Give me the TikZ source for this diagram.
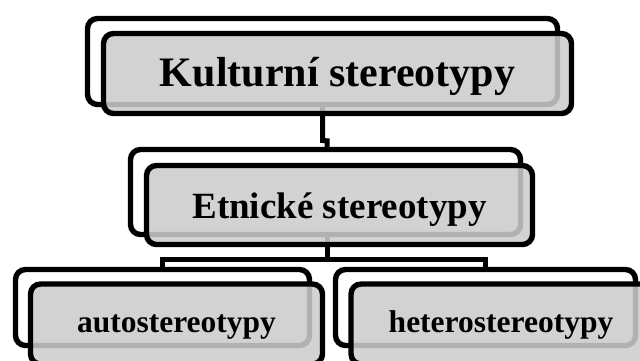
\documentclass[tikz,border=0pt]{standalone}
\usepackage{fontspec}
\setmainfont{Liberation Serif}
\usetikzlibrary{calc}
\pgfdeclarelayer{bg}
\pgfsetlayers{bg,main}
\begin{document}
\begin{tikzpicture}[x=1pt,y=-1pt,
  backbox/.style={draw=black, line width=5.4pt, fill=white, rounded corners=10pt, inner sep=0pt},
  frontbox/.style={draw=black, line width=5.4pt, fill=black!20, fill opacity=0.87, text opacity=1, draw opacity=1, rounded corners=10pt, inner sep=0pt, text depth=0pt},
  conn/.style={line width=5pt, draw=black}]
\useasboundingbox (0,0) rectangle (640,360);
\begin{scope}
\clip (0,0) rectangle (640,360);
% back boxes
\node[backbox, minimum width=470pt, minimum height=86pt] (kb) at (322.5,61.5) {};
\node[backbox, minimum width=390pt, minimum height=85pt] (eb) at (325.5,192) {};
\node[backbox, minimum width=294pt, minimum height=76pt] (ab) at (162.5,307.5) {};
\node[backbox, minimum width=300pt, minimum height=76pt] (hb) at (485.5,307.5) {};
% front boxes
\node[frontbox, minimum width=468pt, minimum height=80pt, text height=25pt,
  font=\fontsize{42}{50}\selectfont\bfseries] (k) at (337.5,73.5) {Kulturní stereotypy};
\node[frontbox, minimum width=386pt, minimum height=79pt, text height=26pt,
  font=\fontsize{37}{44}\selectfont\bfseries] (e) at (339.5,205) {Etnické stereotypy};
\node[frontbox, minimum width=292pt, minimum height=80pt, text height=16pt,
  font=\fontsize{31.5}{38}\selectfont\bfseries] (a) at (176.5,324) {autostereotypy};
\node[frontbox, minimum width=300pt, minimum height=80pt, text height=16pt,
  font=\fontsize{31.5}{38}\selectfont\bfseries] (h) at (501,324) {heterostereotypy};
\end{scope}
\begin{pgfonlayer}{bg}
\draw[conn] (kb.center) -- ++(0,79) -- ($(eb.north)+(1.5,-6)$) -- ($(eb.north)+(1.5,0)$);
\coordinate (j) at ($(eb.center)+(1.5,67)$);
\draw[conn] ($(eb.center)+(1.5,0)$) -- (j);
\draw[conn] (ab.north) |- (j) -| (hb.north);
\end{pgfonlayer}
\end{tikzpicture}
\end{document}
